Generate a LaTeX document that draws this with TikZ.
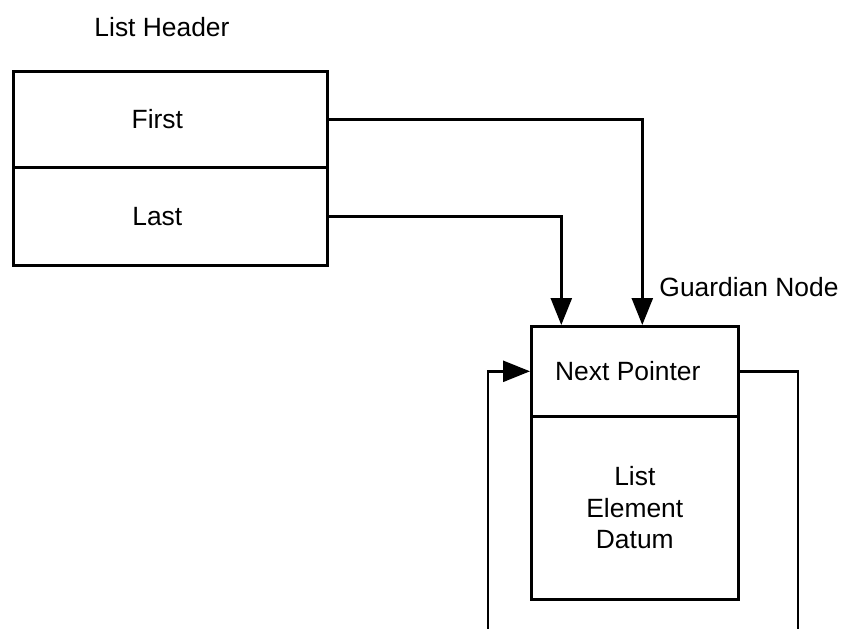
\documentclass[tikz,border=0pt]{standalone}
\usepackage{fontspec}
\setmainfont{Liberation Sans}
\usetikzlibrary{arrows.meta}
\begin{document}
\begin{tikzpicture}[x=1pt,y=-1pt,
  line width=2.6pt,
  every node/.style={font=\fontsize{26.4}{31.5}\selectfont, inner sep=0pt, align=center},
  cell/.style={draw, rectangle, anchor=north west},
  arr/.style={-{Triangle[width=21pt,length=27pt]}},
  wire/.style={line join=miter}]
\useasboundingbox (0,0) rectangle (841,629);

% list header record
\node (title) at (162,27) {List Header};
\node[cell, minimum width=314pt, minimum height=96pt] (first) at (12,70) {First\kern26pt};
\node[cell, minimum width=314pt, minimum height=98pt] (last) at (12,166) {Last\kern26pt};

% guardian node record
\node (gname) at (749,287) {Guardian Node};
\node[cell, minimum width=207pt, minimum height=90pt] (gnext) at (530,325) {Next Pointer\kern14pt};
\node[cell, minimum width=207pt, minimum height=183pt] (gdatum) at (530,415) {List\\Element\\Datum};

% loose ends of the circular link
\coordinate (loopL) at (488,629);
\coordinate (loopR) at (798,629);

% header pointers
\draw[arr, wire] (first.east) -| ([xshift=7.5pt]gnext.north);
\draw[arr, wire] (last.east) -| ([xshift=-73.5pt]gnext.north);

% next pointer wraps around
\draw[wire] (gnext.east) -| (loopR);
\draw[arr, wire] (loopL) |- (gnext.west);
\end{tikzpicture}
\end{document}
